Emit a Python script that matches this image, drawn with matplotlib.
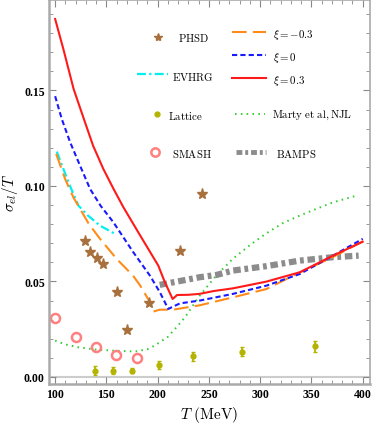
import matplotlib
matplotlib.use("Agg")
import matplotlib.pyplot as plt
from matplotlib.ticker import MultipleLocator

plt.rcParams["mathtext.fontset"] = "cm"

# xi = -0.3
T_neg = [101, 109.7, 117.8, 124.3, 133, 143.8, 160, 176, 183, 192.5, 195.7, 202, 215, 241,
         273.6, 306, 335.4, 370, 400]
sig_neg = [0.1168, 0.1037, 0.094, 0.088, 0.080, 0.0723, 0.0618, 0.053, 0.0478, 0.0391, 0.0342,
           0.0352, 0.0352, 0.0375, 0.0417, 0.046, 0.0539, 0.0625, 0.071]
# xi = 0
T_zero = [100, 106.5, 114.6, 124.3, 134.1, 144.5, 156.8, 176.2, 192.5, 202.2, 210.3, 221.7,
          241.2, 273.6, 306.1, 338.6, 371, 400]
sig_zero = [0.147, 0.135, 0.1229, 0.1106, 0.0984, 0.0895, 0.081, 0.0653, 0.053, 0.0443, 0.0356,
            0.0385, 0.040, 0.0435, 0.0478, 0.0539, 0.0635, 0.0723]
# xi = 0.3
T_pos = [100, 108, 118, 128, 137, 147, 157, 166.5, 183, 200.6, 207, 214.6, 219, 230, 241, 255,
         273.6, 306, 338.6, 371, 400]
sig_pos = [0.1874, 0.1717, 0.1508, 0.1351, 0.1211, 0.1089, 0.0984, 0.0889, 0.074, 0.0583,
           0.0496, 0.0408, 0.0429, 0.0430, 0.0435, 0.045, 0.0464, 0.0499, 0.0548, 0.0635, 0.0708]
# EVHRG
T_ev = [101.6, 113, 122.7, 132, 143.8, 158.4]
sig_ev = [0.118, 0.1019, 0.0897, 0.0845, 0.0792, 0.0749]
# Marty et al, NJL
T_njl = [100, 110, 123, 140, 155, 178, 190, 197, 210, 220, 226.6, 241, 257, 273.6, 290, 306,
         322, 338.6, 354.8, 371, 393.8]
sig_njl = [0.019, 0.017, 0.0155, 0.0143, 0.0138, 0.0133, 0.0145, 0.0164, 0.021, 0.027, 0.0312,
           0.0426, 0.053, 0.062, 0.069, 0.0752, 0.0805, 0.0845, 0.088, 0.0914, 0.0949]
# BAMPS
T_bamps = [202, 241, 257.4, 273.6, 306, 338.6, 371, 396]
sig_bamps = [0.0482, 0.0522, 0.0534, 0.0557, 0.058, 0.0609, 0.0627, 0.0635]
# PHSD
T_phsd = [129, 134, 140.5, 146.5, 160, 170, 192, 222, 243]
sig_phsd = [0.0714, 0.0656, 0.0621, 0.0592, 0.0445, 0.0248, 0.0389, 0.0659, 0.0958]
# SMASH
T_smash = [100, 120, 140, 159, 179.5]
sig_smash = [0.0309, 0.0211, 0.0159, 0.0117, 0.0098]
# Lattice
T_lat = [139, 156, 175, 201.5, 234, 282, 353]
sig_lat = [0.0033, 0.0033, 0.0033, 0.0063, 0.0108, 0.0133, 0.0161]
err_lat = [0.0022, 0.0018, 0.0015, 0.0022, 0.0025, 0.0022, 0.0028]

c_red = "#ff1a1a"
c_blue = "#1a1aff"
c_orange = "#ff8c1a"
c_cyan = "#00f0f0"
c_green = "#33cc33"
c_gray = "#8c8c8c"
c_star = "#a8703c"
c_smash = "#ff8080"
c_lat = "#b3b300"

fig = plt.figure(figsize=(3.74, 4.27), dpi=100)
ax = fig.add_axes([0.131, 0.0984, 0.858, 0.8994])

ax.axhline(0, color="#cccccc", lw=1.5, zorder=0)

ax.plot(T_njl, sig_njl, color=c_green, lw=1.4, linestyle=(0, (0.8, 2.2)))
ax.plot(T_bamps, sig_bamps, color=c_gray, lw=4.5, linestyle=(0, (1.2, 0.6, 0.6, 0.6)))
ax.plot(T_ev, sig_ev, color=c_cyan, lw=1.6, linestyle=(0, (4, 1.5, 1, 1.5)))
ax.plot(T_neg, sig_neg, color=c_orange, lw=1.5, linestyle=(0, (7, 3)))
ax.plot(T_zero, sig_zero, color=c_blue, lw=1.5, linestyle=(0, (2.5, 1.5)))
ax.plot(T_pos, sig_pos, color=c_red, lw=1.5)

ax.plot(T_phsd, sig_phsd, linestyle="", marker="*", ms=8, color=c_star)
ax.plot(T_smash, sig_smash, linestyle="", marker="o", ms=6.5, mfc="none", mec=c_smash, mew=1.8)
ax.errorbar(T_lat, sig_lat, yerr=err_lat, fmt="o", ms=3.5, color=c_lat, elinewidth=1.3,
            capsize=1.5, capthick=1.0)

ax.set_xlim(94, 407)
ax.set_ylim(-0.0037, 0.1974)

ax.xaxis.set_minor_locator(MultipleLocator(10))
ax.yaxis.set_minor_locator(MultipleLocator(0.01))
ax.set_xticks([100, 150, 200, 250, 300, 350, 400])
ax.set_yticks([0.0, 0.05, 0.10, 0.15])
ax.set_yticklabels(["0.00", "0.05", "0.10", "0.15"])
ax.tick_params(which="both", direction="in", top=True, right=True, color="#888888")
ax.tick_params(which="major", length=5, width=0.8, pad=3)
ax.tick_params(which="minor", length=3, width=0.6)
for lab in ax.get_xticklabels() + ax.get_yticklabels():
    lab.set_family("Liberation Serif")
    lab.set_fontweight("bold")
    lab.set_fontsize(8.5)
for sp in ax.spines.values():
    sp.set_color("#aaaaaa")
    sp.set_linewidth(1.2)
ax.spines["left"].set_linewidth(1.8)
ax.spines["bottom"].set_linewidth(1.8)

ax.set_xlabel(r"$T\ \mathrm{(MeV)}$", fontsize=11)
ax.set_ylabel(r"$\sigma_{el}/T$", fontsize=11)
ax.xaxis.set_label_coords(0.5, -0.052)
ax.yaxis.set_label_coords(-0.09, 0.5)

# legend, drawn by hand in axes fractions
tr = ax.transAxes
fs = 7.8
ax.plot([0.340], [0.904], transform=tr, marker="*", ms=6, color=c_star, linestyle="")
ax.text(0.402, 0.904, r"$\mathrm{PHSD}$", transform=tr, fontsize=fs, va="center")
ax.plot([0.274, 0.371], [0.807, 0.807], transform=tr, color=c_cyan, lw=1.6,
        linestyle=(0, (4, 1.5, 1, 1.5)))
ax.text(0.383, 0.802, r"$\mathrm{EVHRG}$", transform=tr, fontsize=fs, va="center")
ax.plot([0.336], [0.703], transform=tr, marker="o", ms=3.5, color=c_lat, linestyle="")
ax.text(0.371, 0.701, r"$\mathrm{Lattice}$", transform=tr, fontsize=fs, va="center")
ax.plot([0.330], [0.604], transform=tr, marker="o", ms=6, mfc="none", mec=c_smash, mew=1.8,
        linestyle="")
ax.text(0.383, 0.601, r"$\mathrm{SMASH}$", transform=tr, fontsize=fs, va="center")

ax.plot([0.570, 0.676], [0.917, 0.917], transform=tr, color=c_orange, lw=1.5, linestyle=(0, (7, 3)))
ax.text(0.698, 0.912, r"$\xi=-0.3$", transform=tr, fontsize=fs, va="center")
ax.plot([0.570, 0.676], [0.857, 0.857], transform=tr, color=c_blue, lw=1.5, linestyle=(0, (2.5, 1.5)))
ax.text(0.698, 0.852, r"$\xi=0$", transform=tr, fontsize=fs, va="center")
ax.plot([0.570, 0.676], [0.797, 0.797], transform=tr, color=c_red, lw=1.5)
ax.text(0.698, 0.792, r"$\xi=0.3$", transform=tr, fontsize=fs, va="center")
ax.plot([0.580, 0.672], [0.703, 0.703], transform=tr, color=c_green, lw=1.4, linestyle=(0, (0.8, 2.2)))
ax.text(0.695, 0.701, r"$\mathrm{Marty\ et\ al, NJL}$", transform=tr, fontsize=fs, va="center")
ax.plot([0.582, 0.676], [0.604, 0.604], transform=tr, color=c_gray, lw=3.5,
        linestyle=(0, (1.2, 0.6, 0.6, 0.6)))
ax.text(0.707, 0.601, r"$\mathrm{BAMPS}$", transform=tr, fontsize=fs, va="center")

fig.savefig("out.png", dpi=100)
